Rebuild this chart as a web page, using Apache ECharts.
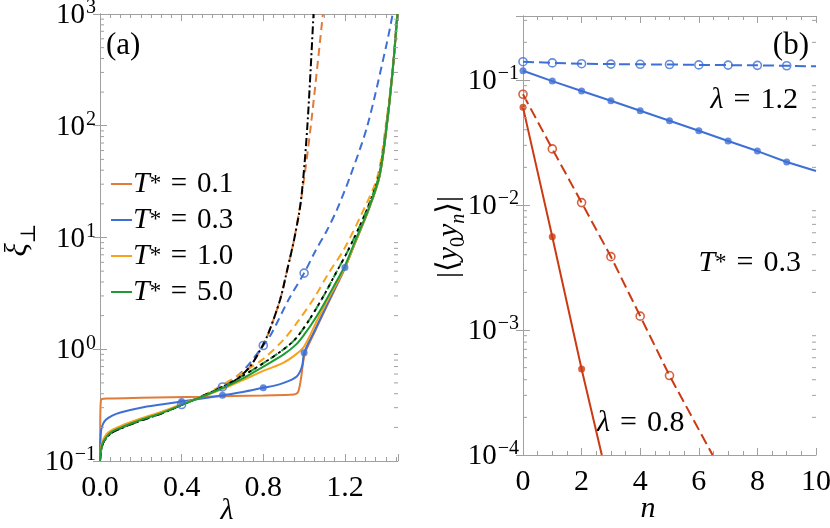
<!DOCTYPE html>
<html>
<head>
<meta charset="utf-8">
<style>
  html, body { margin: 0; padding: 0; background: #fff; }
  #chart { width: 830px; height: 528px; }
</style>
<script src="https://cdn.jsdelivr.net/npm/echarts@6/dist/echarts.min.js"></script>
</head>
<body>
<div id="chart"></div>
<script>
const FONT = '"Liberation Serif", "DejaVu Serif", serif';
const FRAME = '#a0a0a0';
const orange = '#e07b39', blue = '#3e6fd5', amber = '#f8a21c', green = '#1f9b33', red = '#cc3a12';
const SP = '\u2004';

// ---- panel (a): [lambda, xi] ----
const t01Solid = [[0,0.1],[0.001,0.2],[0.003,0.32],[0.008,0.358],[0.04,0.363],[0.2,0.368],[0.5,0.376],[0.8,0.386],[0.93,0.392],[0.958,0.397],[0.972,0.42],[0.985,0.55],[0.997,0.8],[1.01,0.98],[1.05,1.4],[1.1,2.2],[1.15,3.4],[1.2,5.3],[1.25,9],[1.315,17.6],[1.369,35],[1.405,100],[1.435,330],[1.457,1000]];
const t03Solid = [[0,0.1],[0.002,0.15],[0.006,0.19],[0.015,0.215],[0.03,0.235],[0.06,0.255],[0.1,0.272],[0.2,0.3],[0.3,0.32],[0.4,0.34],[0.5,0.363],[0.6,0.387],[0.7,0.415],[0.8,0.452],[0.86,0.475],[0.9,0.5],[0.94,0.535],[0.964,0.57],[0.98,0.63],[0.992,0.73],[1.0,0.93],[1.05,1.45],[1.1,2.25],[1.15,3.5],[1.2,5.4],[1.25,9],[1.315,17.6],[1.369,35],[1.405,100],[1.435,330],[1.457,1000]];
const t10Solid = [[0,0.1],[0.003,0.125],[0.012,0.15],[0.04,0.18],[0.1,0.205],[0.2,0.24],[0.3,0.275],[0.4,0.322],[0.5,0.376],[0.6,0.44],[0.7,0.53],[0.8,0.64],[0.9,0.76],[0.96,0.9],[1.0,1.06],[1.065,1.83],[1.13,3.1],[1.2,5.4],[1.25,9],[1.315,17.6],[1.369,35],[1.405,100],[1.435,330],[1.457,1000]];
const t50Solid = [[0,0.1],[0.004,0.125],[0.016,0.148],[0.05,0.178],[0.1,0.198],[0.2,0.233],[0.3,0.268],[0.4,0.318],[0.5,0.376],[0.6,0.45],[0.7,0.55],[0.8,0.7],[0.9,0.9],[0.96,1.1],[1.0,1.35],[1.05,1.83],[1.1,2.6],[1.15,3.8],[1.2,5.6],[1.25,9.3],[1.315,17.8],[1.369,35.5],[1.405,100],[1.435,330],[1.457,1000]];

const t01Dashed = [[0,0.1],[0.004,0.12],[0.016,0.146],[0.05,0.175],[0.1,0.195],[0.2,0.23],[0.3,0.266],[0.4,0.318],[0.5,0.38],[0.6,0.46],[0.67,0.54],[0.735,0.7],[0.79,1.02],[0.825,1.39],[0.882,2.76],[0.918,5.2],[0.953,10],[0.99,25],[1.033,100],[1.092,1000]];
const t03Dashed = [[0,0.1],[0.004,0.12],[0.016,0.146],[0.05,0.175],[0.1,0.196],[0.2,0.23],[0.3,0.266],[0.4,0.32],[0.5,0.38],[0.6,0.46],[0.7,0.64],[0.8,1.08],[0.841,1.39],[0.923,2.76],[1.0,4.8],[1.054,7.5],[1.111,11.5],[1.16,17.6],[1.225,35],[1.31,100],[1.405,546],[1.434,1000]];
const t10Dashed = [[0,0.1],[0.004,0.122],[0.016,0.147],[0.05,0.177],[0.1,0.197],[0.2,0.232],[0.3,0.268],[0.4,0.318],[0.5,0.38],[0.6,0.48],[0.7,0.62],[0.8,0.82],[0.9,1.22],[0.975,1.83],[1.05,2.9],[1.12,4.8],[1.193,7.7],[1.28,16],[1.359,35],[1.4,100],[1.435,330],[1.457,1000]];
const t50Dashed = [[0,0.1],[0.004,0.122],[0.016,0.147],[0.05,0.177],[0.1,0.197],[0.2,0.232],[0.3,0.268],[0.4,0.318],[0.5,0.378],[0.6,0.46],[0.7,0.58],[0.8,0.75],[0.9,1.0],[0.96,1.25],[1.025,1.83],[1.1,3.1],[1.15,4.6],[1.216,7.7],[1.3,16.5],[1.365,35],[1.403,100],[1.435,330],[1.457,1000]];
const limitDashDot = [[0,0.1],[0.004,0.12],[0.016,0.146],[0.05,0.175],[0.1,0.195],[0.2,0.23],[0.3,0.266],[0.4,0.318],[0.5,0.38],[0.6,0.46],[0.67,0.54],[0.735,0.7],[0.79,1.02],[0.825,1.39],[0.882,2.76],[0.918,5.2],[0.953,10],[0.985,21.7],[1.016,100],[1.046,1000]];
const limitDashed = [[0,0.1],[0.004,0.122],[0.016,0.147],[0.05,0.177],[0.1,0.197],[0.2,0.232],[0.3,0.268],[0.4,0.318],[0.5,0.378],[0.6,0.46],[0.7,0.58],[0.8,0.75],[0.9,1.0],[0.96,1.25],[1.025,1.83],[1.1,3.1],[1.15,4.6],[1.216,7.7],[1.3,16.5],[1.365,35],[1.403,100],[1.435,330],[1.457,1000]];

const dotLam = [0.4, 0.6, 0.8, 1.0, 1.2];
const dotXi = [0.34, 0.387, 0.452, 0.93, 5.4];
const ringLam = [0.4, 0.6, 0.8, 1.0];
const ringXi = [0.32, 0.46, 1.08, 4.8];

// ---- panel (b): |<y0 yn>| vs n ----
const nVals = [0, 1, 2, 3, 4, 5, 6, 7, 8, 9, 10];
const corrHighDashed = [0.140, 0.137, 0.135, 0.134, 0.1335, 0.133, 0.132, 0.1315, 0.131, 0.130, 0.1285];
const corrHighSolid = [0.1186, 0.098, 0.0817, 0.0682, 0.0568, 0.0472, 0.0393, 0.0325, 0.0270, 0.0221, 0.0187];
const corrLowSolid = [0.0604, 0.00557, 0.000488];
const corrLowSolidEnd = [2.69, 0.0001];
const corrLowDashed = [0.0769, 0.0281, 0.01045, 0.00386, 0.00129, 0.000432];
const corrLowDashedEnd = [6.47, 0.0001];

const minorMult = [2, 3, 4, 5, 6, 7, 8, 9];
const decadesA = [-1, 0, 1, 2];
const decadesB = [-4, -3, -2, -1];

const pairs = (xs, ys) => ys.map((y, i) => [xs[i], y]);

function logTicks(decades, top) {
  const out = [];
  decades.forEach(d => minorMult.forEach(m => {
    const v = m * Math.pow(10, d);
    if (v < top) out.push([0, v]);
  }));
  return out;
}

const supRich = {
  b: { fontFamily: FONT, fontSize: 29, color: '#000', verticalAlign: 'bottom' },
  e: { fontFamily: FONT, fontSize: 20, color: '#000', verticalAlign: 'bottom', padding: [0, 0, 12, 1] }
};

function powLabel(v) {
  const e = Math.log10(v);
  const r = Math.round(e);
  if (Math.abs(e - r) > 1e-6) return '';
  return '{b|10}{e|' + (r < 0 ? '\u2212' + (-r) : r) + '}';
}

function xAxisDef(grid, min, max, interval, split, pos, fmt) {
  return {
    type: 'value', gridIndex: grid, min: min, max: max, interval: interval, position: pos,
    axisLine: { show: true, lineStyle: { color: FRAME, width: 1 } },
    axisTick: { show: true, inside: true, length: 7, lineStyle: { color: FRAME } },
    minorTick: { show: true, splitNumber: split, length: 4, lineStyle: { color: FRAME } },
    splitLine: { show: false },
    axisLabel: { show: !!fmt, formatter: fmt, margin: 12, color: '#000', fontFamily: FONT, fontSize: 30 }
  };
}

function yAxisDef(grid, min, max, pos, showLabel) {
  return {
    type: 'log', logBase: 10, gridIndex: grid, min: min, max: max, position: pos,
    axisLine: { show: true, lineStyle: { color: FRAME, width: 1 } },
    axisTick: { show: true, inside: true, length: 7, lineStyle: { color: FRAME } },
    splitLine: { show: false },
    axisLabel: { show: showLabel, formatter: powLabel, margin: 4, rich: supRich }
  };
}

const fmtA = v => Math.abs(v / 0.4 - Math.round(v / 0.4)) < 1e-6 ? v.toFixed(1) : '';
const fmtB = v => String(v);

function curve(name, data, color, type, width, z) {
  return {
    name: name, type: 'line', xAxisIndex: 0, yAxisIndex: 0, data: data,
    showSymbol: false, smooth: 0.3, z: z || 2,
    lineStyle: { color: color, width: width || 2, type: type || 'solid' },
    itemStyle: { color: color }, emphasis: { disabled: true }
  };
}

function ticksSeries(xi, yi, data) {
  return {
    type: 'custom', xAxisIndex: xi, yAxisIndex: yi, data: data, silent: true, z: 10, clip: false,
    encode: { x: 0, y: 1 },
    renderItem: function (params, api) {
      const cs = params.coordSys;
      const y = api.coord([api.value(0), api.value(1)])[1];
      const st = { stroke: FRAME, lineWidth: 1 };
      return { type: 'group', children: [
        { type: 'line', shape: { x1: cs.x, y1: y, x2: cs.x + 4, y2: y }, style: st },
        { type: 'line', shape: { x1: cs.x + cs.width - 4, y1: y, x2: cs.x + cs.width, y2: y }, style: st }
      ] };
    }
  };
}

function marks(xi, yi, data, color, open) {
  return {
    type: 'scatter', xAxisIndex: xi, yAxisIndex: yi, data: data, symbol: 'circle',
    symbolSize: open ? 8 : 7, z: 5, emphasis: { disabled: true },
    itemStyle: open ? { color: 'rgba(255,255,255,0)', borderColor: color, borderWidth: 1.6 } : { color: color }
  };
}

function bLine(data, color, dashed) {
  return {
    type: 'line', xAxisIndex: 2, yAxisIndex: 2, data: data, showSymbol: false, z: 3,
    lineStyle: { color: color, width: 2, type: dashed ? [11, 5] : 'solid' }, emphasis: { disabled: true }
  };
}

const mathRich = {
  i: { fontFamily: FONT, fontStyle: 'italic', fontSize: 30, fill: '#000' },
  s: { fontFamily: FONT, fontSize: 23, fill: '#000' },
  r: { fontFamily: FONT, fontSize: 30, fill: '#000' }
};

const chart = echarts.init(document.getElementById('chart'));

const option = {
  animation: false,
  backgroundColor: '#fff',
  grid: [
    { left: 100, top: 14, width: 298, height: 447, containLabel: false, outerBoundsMode: 'none' },
    { left: 523, top: 16, width: 293, height: 439, containLabel: false, outerBoundsMode: 'none' }
  ],
  xAxis: [
    xAxisDef(0, 0, 1.46, 0.4, 8, 'bottom', fmtA),
    xAxisDef(0, 0, 1.46, 0.4, 8, 'top', null),
    xAxisDef(1, 0, 10, 2, 4, 'bottom', fmtB),
    xAxisDef(1, 0, 10, 2, 4, 'top', null)
  ],
  yAxis: [
    yAxisDef(0, 0.1, 1000, 'left', true),
    yAxisDef(0, 0.1, 1000, 'right', false),
    yAxisDef(1, 0.0001, 0.325, 'left', true),
    yAxisDef(1, 0.0001, 0.325, 'right', false)
  ],
  legend: {
    left: 106, top: 164, orient: 'vertical', icon: 'rect', itemWidth: 21, itemHeight: 2, itemGap: 6,
    selectedMode: false,
    data: ['T* = 0.1', 'T* = 0.3', 'T* = 1.0', 'T* = 5.0'],
    formatter: name => '{t|T}{s|*}{r|' + SP + '=' + SP + name.split('= ')[1] + '}',
    textStyle: {
      color: '#000', fontFamily: FONT, fontSize: 29, lineHeight: 30, padding: [0, 0, 0, -4],
      rich: {
        t: { fontFamily: FONT, fontStyle: 'italic', fontSize: 30, color: '#000' },
        s: { fontFamily: FONT, fontSize: 23, color: '#000' },
        r: { fontFamily: FONT, fontSize: 29, color: '#000' }
      }
    }
  },
  graphic: [
    { type: 'text', x: 106, y: 46, style: { text: '(a)', fontFamily: FONT, fontSize: 31, fill: '#000', verticalAlign: 'middle' } },
    { type: 'text', x: 809, y: 46, style: { text: '(b)', fontFamily: FONT, fontSize: 31, fill: '#000', align: 'right', verticalAlign: 'middle' } },
    { type: 'text', x: 227, y: 511, style: { text: 'λ', fontFamily: FONT, fontStyle: 'italic', fontSize: 30, fill: '#000', align: 'center', verticalAlign: 'middle' } },
    { type: 'text', x: 648, y: 509, style: { text: 'n', fontFamily: FONT, fontStyle: 'italic', fontSize: 30, fill: '#000', align: 'center', verticalAlign: 'middle' } },
    { type: 'text', x: 18, y: 240, rotation: Math.PI / 2, style: {
      text: '{i|ξ}{s|⊥}', align: 'center', verticalAlign: 'middle',
      rich: { i: { fontFamily: FONT, fontStyle: 'italic', fontSize: 31, fill: '#000', verticalAlign: 'bottom' },
              s: { fontFamily: FONT, fontSize: 21, fill: '#000', verticalAlign: 'bottom', padding: [0, 0, -6, 0] } } } },
    { type: 'text', x: 449, y: 237, rotation: Math.PI / 2, style: {
      text: '{r||⟨}{i|y}{s|0}{i|y}{si|n}{r|⟩|}', align: 'center', verticalAlign: 'middle',
      rich: { r: { fontFamily: FONT, fontSize: 30, fill: '#000', verticalAlign: 'bottom' },
              i: { fontFamily: FONT, fontStyle: 'italic', fontSize: 30, fill: '#000', verticalAlign: 'bottom' },
              s: { fontFamily: FONT, fontSize: 20, fill: '#000', verticalAlign: 'bottom', padding: [0, 0, -5, 0] },
              si: { fontFamily: FONT, fontStyle: 'italic', fontSize: 20, fill: '#000', verticalAlign: 'bottom', padding: [0, 0, -5, 0] } } } },
    { type: 'text', x: 798, y: 100, style: {
      text: '{i|λ}{r|' + SP + '=' + SP + '1.2}', align: 'right', verticalAlign: 'middle', rich: mathRich } },
    { type: 'text', x: 801, y: 263, style: {
      text: '{i|T}{s|*}{r|' + SP + '=' + SP + '0.3}', align: 'right', verticalAlign: 'middle', rich: mathRich } },
    { type: 'text', x: 597, y: 423, style: {
      text: '{i|λ}{r|' + SP + '=' + SP + '0.8}', verticalAlign: 'middle', rich: mathRich } }
  ],
  series: [
    curve('T* = 0.1 (dashed)', t01Dashed, orange, [8, 5], 2, 2),
    curve('limit (dash-dot)', limitDashDot, '#000', [8, 3, 2, 3], 2, 3),
    curve('T* = 0.3 (dashed)', t03Dashed, blue, [8, 5], 2, 2),
    curve('T* = 1.0 (dashed)', t10Dashed, amber, [8, 5], 2, 2),
    curve('T* = 5.0 (dashed)', t50Dashed, green, [8, 5], 2, 2),
    curve('limit (dashed)', limitDashed, '#000', [3, 4], 1.8, 3),
    curve('T* = 0.1', t01Solid, orange, 'solid', 2, 4),
    curve('T* = 0.3', t03Solid, blue, 'solid', 2, 4),
    curve('T* = 1.0', t10Solid, amber, 'solid', 2, 4),
    curve('T* = 5.0', t50Solid, green, 'solid', 2, 4),
    marks(0, 0, pairs(dotLam, dotXi), blue, false),
    marks(0, 0, pairs(ringLam, ringXi), blue, true),
    ticksSeries(0, 0, logTicks(decadesA, 1000)),

    bLine(pairs(nVals, corrHighDashed), blue, true),
    bLine(pairs(nVals, corrHighSolid), blue, false),
    bLine(pairs(nVals, corrLowSolid).concat([corrLowSolidEnd]), red, false),
    bLine(pairs(nVals, corrLowDashed).concat([corrLowDashedEnd]), red, true),
    marks(2, 2, pairs(nVals.slice(0, 10), corrHighDashed.slice(0, 10)), blue, true),
    marks(2, 2, pairs(nVals.slice(0, 10), corrHighSolid.slice(0, 10)), blue, false),
    marks(2, 2, pairs(nVals, corrLowSolid), red, false),
    marks(2, 2, pairs(nVals, corrLowDashed), red, true),
    ticksSeries(2, 2, logTicks(decadesB, 0.325))
  ]
};

chart.setOption(option);
</script>
</body>
</html>
